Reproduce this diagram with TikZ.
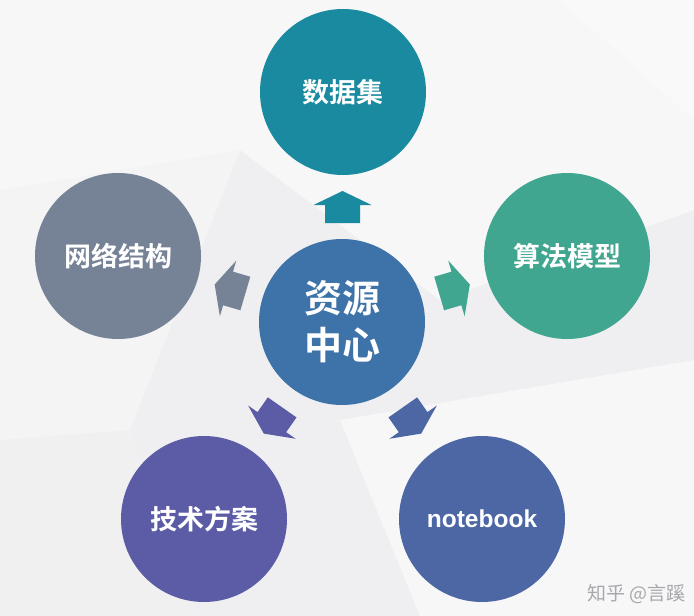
\documentclass[tikz,border=0pt]{standalone}
\usepackage{fontspec}
\newfontfamily\cjk{Noto Sans CJK SC}[BoldFont={Noto Sans CJK SC Bold}]
\newfontfamily\latinsans{Liberation Sans}
\usetikzlibrary{calc}
\definecolor{bgbase}{HTML}{EFEFF1}
\definecolor{cTop}{HTML}{1A8AA0}
\definecolor{cCenter}{HTML}{3E73A9}
\definecolor{cLeft}{HTML}{768396}
\definecolor{cRight}{HTML}{40A68F}
\definecolor{cBL}{HTML}{5B5CA5}
\definecolor{cBR}{HTML}{4C67A4}
\definecolor{wm}{HTML}{A8A8AC}
\tikzset{
  bubble/.style={circle, minimum size=166pt, inner sep=0pt, text=white, font=\cjk\bfseries\fontsize{27}{32}\selectfont},
  pics/blkarrow/.style={code={\fill (-16,-17.5) -- (2,-17.5) -- (2,-29) -- (16,0) -- (2,29) -- (2,17.5) -- (-16,17.5) -- cycle;}}
}
\begin{document}
\begin{tikzpicture}[x=1pt,y=-1pt]
\useasboundingbox (0,0) rectangle (694,616);
% background
\fill[bgbase] (0,0) rectangle (694,616);
\fill[white,opacity=0.55] (0,0) -- (694,0) -- (694,210) -- (440,300) -- (240,150) -- (0,190) -- cycle;
\fill[white,opacity=0.35] (560,0) -- (694,0) -- (694,120) -- cycle;
\fill[white,opacity=0.5] (340,420) -- (694,360) -- (694,616) -- (420,616) -- cycle;
\fill[black!5,opacity=0.5] (0,440) -- (130,430) -- (200,616) -- (0,616) -- cycle;
\fill[white,opacity=0.35] (0,190) -- (240,150) -- (130,430) -- (0,440) -- cycle;
% nodes
\node[bubble, fill=cCenter, font=\cjk\bfseries\fontsize{38}{47}\selectfont, align=center] (c) at (342,322) {资源\\中心};
\node[bubble, fill=cTop] (t) at (343,92) {数据集};
\node[bubble, fill=cLeft] (l) at (118,256) {网络结构};
\node[bubble, fill=cRight] (r) at (567,256) {算法模型};
\node[bubble, fill=cBL] (bl) at (204,519) {技术方案};
\node[bubble, fill=cBR, font=\latinsans\bfseries\fontsize{24.5}{30}\selectfont] (br) at (482,519) {notebook};
% arrows
\pic[fill=cTop, rotate=90] at ($(c)!0.5!(t)$) {blkarrow};
\pic[fill=cLeft, rotate=163.6] at ($(c)!0.5!(l)$) {blkarrow};
\pic[fill=cRight, rotate=16.4] at ($(c)!0.5!(r)$) {blkarrow};
\pic[fill=cBL, rotate=-125] at ($(c)!0.5!(bl)$) {blkarrow};
\pic[fill=cBR, rotate=-55] at ($(c)!0.5!(br)$) {blkarrow};
% watermark
\node[text=wm, font=\cjk\fontsize{19}{22}\selectfont, anchor=east, inner sep=0pt] (wmk) at (686,594) {知乎 @言蹊};
\end{tikzpicture}
\end{document}
